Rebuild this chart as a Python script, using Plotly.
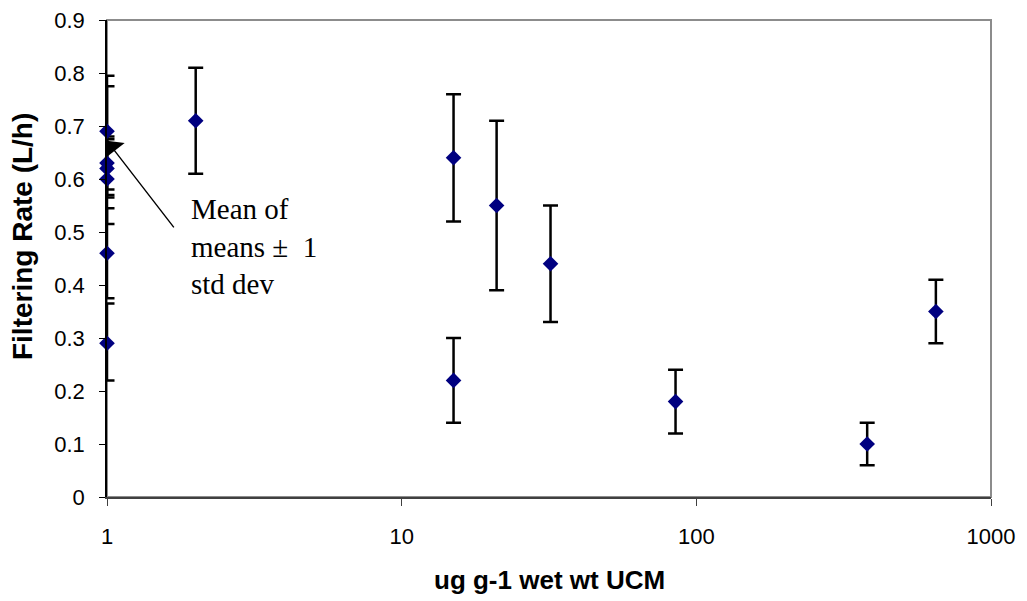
import plotly.graph_objects as go

# Data
ucm = [1, 1, 1, 1, 1, 1, 2, 15, 15, 21, 32, 85, 380, 650]
rate = [0.69, 0.63, 0.62, 0.60, 0.46, 0.29, 0.71, 0.64, 0.22, 0.55, 0.44, 0.18, 0.10, 0.35]
err_plus = [0.105, 0.145, 0.055, 0.08, 0.085, 0.075, 0.10, 0.12, 0.08, 0.16, 0.11, 0.06, 0.04, 0.06]
err_minus = [0.11, 0.06, 0.055, 0.085, 0.085, 0.07, 0.10, 0.12, 0.08, 0.16, 0.11, 0.06, 0.04, 0.06]

x_ticks = [1, 10, 100, 1000]
x_tick_text = ["1", "10", "100", "1000"]
y_ticks = [0, 0.1, 0.2, 0.3, 0.4, 0.5, 0.6, 0.7, 0.8, 0.9]
y_tick_text = ["0", "0.1", "0.2", "0.3", "0.4", "0.5", "0.6", "0.7", "0.8", "0.9"]

W, H = 1027, 601
L, R, T, B = 107, 36, 20, 104

fig = go.Figure()
fig.add_trace(go.Scatter(
    x=ucm, y=rate, mode="markers",
    marker=dict(symbol="diamond", size=12, color="#000080", line=dict(width=0)),
    error_y=dict(type="data", symmetric=False, array=err_plus, arrayminus=err_minus,
                 color="black", thickness=2.5, width=7.5),
    cliponaxis=False, showlegend=False, hoverinfo="x+y",
))

sans = "Arial, Liberation Sans, sans-serif"
serif = "Times New Roman, Liberation Serif, serif"

fig.update_layout(
    width=W, height=H,
    margin=dict(l=L, r=R, t=T, b=B, autoexpand=False),
    paper_bgcolor="white", plot_bgcolor="white",
    xaxis=dict(type="log", range=[0, 3.0], tickvals=x_ticks, ticktext=x_tick_text,
               ticks="outside", ticklen=7, tickwidth=1, tickcolor="#404040",
               ticklabelstandoff=12,
               showline=True, linecolor="#404040", linewidth=1.5,
               showgrid=False, zeroline=False,
               tickfont=dict(family=sans, size=22, color="black")),
    yaxis=dict(range=[0, 0.9], tickvals=y_ticks, ticktext=y_tick_text,
               ticks="outside", ticklen=6, tickwidth=1, tickcolor="black",
               ticklabelstandoff=10,
               showline=True, linecolor="black", linewidth=1.5,
               showgrid=False, zeroline=False,
               tickfont=dict(family=sans, size=22, color="black")),
    shapes=[dict(type="rect", xref="paper", yref="paper", x0=0, x1=1, y0=0, y1=1,
                 line=dict(color="#8c8c8c", width=2), layer="below")],
    annotations=[
        dict(text="<b>Filtering Rate (L/h)</b>", xref="paper", yref="paper",
             x=(22 - L) / (W - L - R), y=0.545, xanchor="center", yanchor="middle",
             textangle=-90, showarrow=False,
             font=dict(family=sans, size=28, color="black")),
        dict(text="<b>ug g-1 wet wt UCM</b>", xref="paper", yref="paper",
             x=0.5, y=-0.173, xanchor="center", yanchor="middle", showarrow=False,
             font=dict(family=sans, size=26, color="black")),
        dict(text="", xref="x", yref="y", x=0, y=0.672, ax=68, ay=88,
             showarrow=True, arrowhead=1, arrowsize=3, arrowwidth=1.4,
             arrowcolor="black", standoff=0),
        dict(text="Mean of<br>means \u00b1\u00a0 1<br>std dev", xref="x", yref="y",
             x=0.278, y=0.472, xanchor="left", yanchor="middle", align="left",
             showarrow=False, font=dict(family=serif, size=29, color="black")),
    ],
)

fig.write_html("out.html")
